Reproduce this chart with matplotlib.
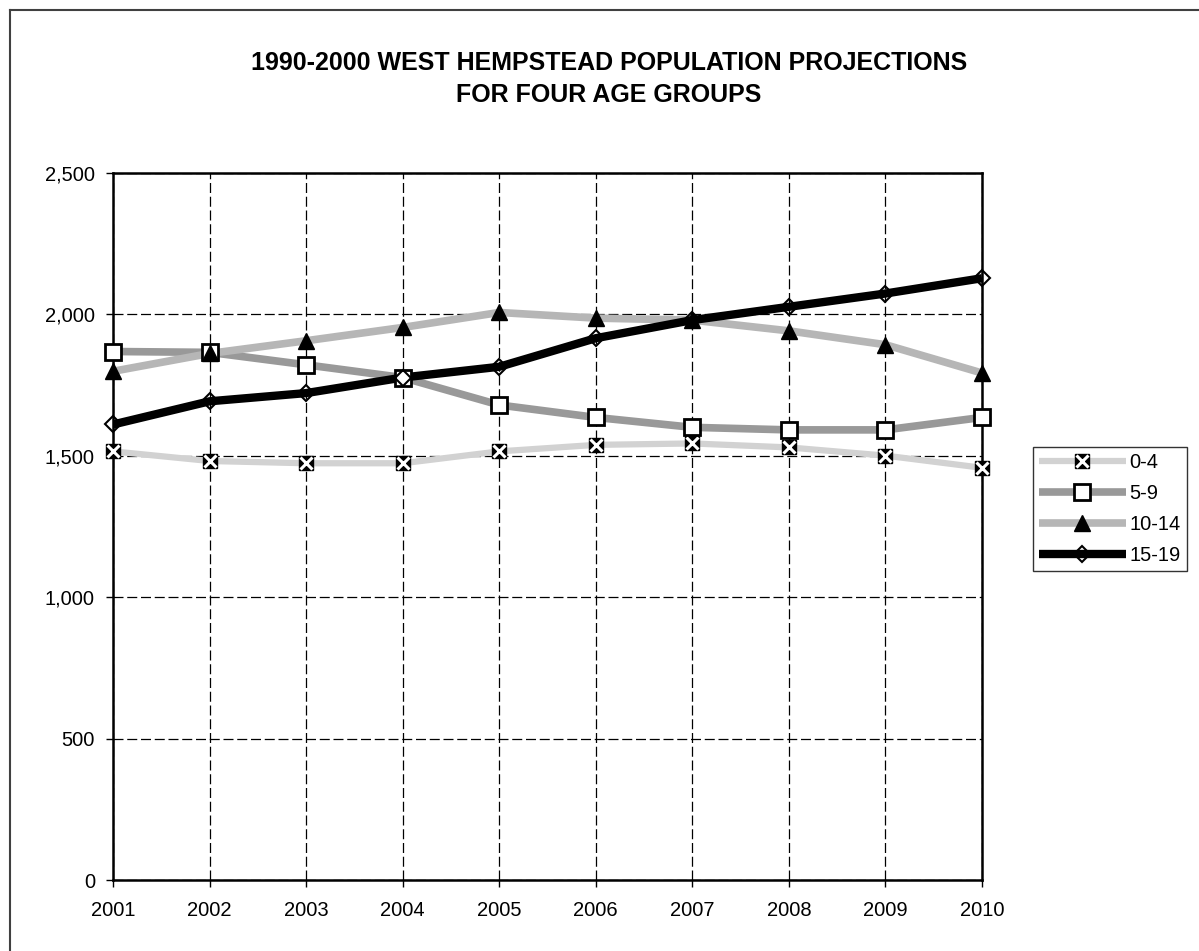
import matplotlib.pyplot as plt
from matplotlib.lines import Line2D
from matplotlib.ticker import FuncFormatter, MultipleLocator
from matplotlib.legend_handler import HandlerTuple

plt.rcParams['font.family'] = ['Liberation Sans', 'DejaVu Sans']

years = [2001, 2002, 2003, 2004, 2005, 2006, 2007, 2008, 2009, 2010]
labels = ['0-4', '5-9', '10-14', '15-19']
age_0_4 = [1515, 1481, 1473, 1473, 1515, 1538, 1543, 1529, 1500, 1457]
age_5_9 = [1868, 1865, 1821, 1776, 1679, 1635, 1600, 1591, 1591, 1635]
age_10_14 = [1798, 1861, 1906, 1953, 2006, 1986, 1979, 1941, 1892, 1792]
age_15_19 = [1610, 1692, 1721, 1776, 1814, 1915, 1979, 2026, 2073, 2127]

W, H = 1199, 951
fig = plt.figure(figsize=(W / 100, H / 100), dpi=100)
ax = fig.add_axes([113 / W, 1 - 880 / H, (982 - 113) / W, (880 - 172.7) / H])

# line style, then marker style, per series
styles = [
    (dict(color='#d2d2d2', lw=4.5),
     dict(marker='s', ms=10, mfc='black', mec='black', mew=1)),
    (dict(color='#999999', lw=5.5),
     dict(marker='s', ms=11, mfc='white', mec='black', mew=2)),
    (dict(color='#b6b6b6', lw=5.5),
     dict(marker='^', ms=12, mfc='black', mec='black', mew=1)),
    (dict(color='black', lw=6),
     dict(marker='D', ms=8, mfc='none', mec='black', mew=1.5)),
]
series = [age_0_4, age_5_9, age_10_14, age_15_19]

handles = []
# all lines first, markers on top in series order
for i, (vals, (ls, ms)) in enumerate(zip(series, styles)):
    ln, = ax.plot(years, vals, zorder=2 + i * 0.1, solid_capstyle='butt', **ls)
    mk, = ax.plot(years, vals, ls='none', zorder=4 + i, clip_on=False, **ms)
    parts = [ln, mk]
    if i == 0:
        cross, = ax.plot(years, vals, ls='none', marker='x', ms=8, mec='white',
                         mew=2.2, zorder=4.5, clip_on=False)
        parts.append(cross)
    handles.append(tuple(parts))

ax.set_xlim(2001, 2010)
ax.set_ylim(0, 2500)
ax.set_xticks(years)
ax.yaxis.set_major_locator(MultipleLocator(500))
ax.yaxis.set_major_formatter(FuncFormatter(lambda v, p: f'{v:,.0f}'))
ax.grid(True, color='black', lw=0.9, ls=(0, (8, 3)))
ax.set_axisbelow(True)
for s in ax.spines.values():
    s.set_linewidth(1.8)
ax.tick_params(labelsize=14.5, length=5, width=1, direction='out')
ax.tick_params(axis='x', pad=10)
ax.tick_params(axis='y', pad=8)

fig.text(609 / W, 1 - 79 / H,
         '1990-2000 WEST HEMPSTEAD POPULATION PROJECTIONS\nFOR FOUR AGE GROUPS',
         ha='center', va='center', fontsize=18, fontweight='bold', linespacing=1.38)

leg = fig.legend(handles, labels, loc='upper left',
                 bbox_to_anchor=(1033 / W, 1 - 447 / H), borderaxespad=0,
                 fontsize=14.5, handlelength=4.3, handletextpad=0.2,
                 labelspacing=0.6, borderpad=0.3, fancybox=False,
                 handler_map={tuple: HandlerTuple(ndivide=1, pad=0)})
leg.get_frame().set_edgecolor('black')
leg.get_frame().set_linewidth(1)

# chart border, only the top and left edges fall inside the image
fig.add_artist(Line2D([10 / W, 10 / W], [0, 1 - 10 / H], color='#404040', lw=1.5))
fig.add_artist(Line2D([10 / W, 1], [1 - 10 / H, 1 - 10 / H], color='#404040', lw=1.5))

fig.savefig('out.png', dpi=100)
